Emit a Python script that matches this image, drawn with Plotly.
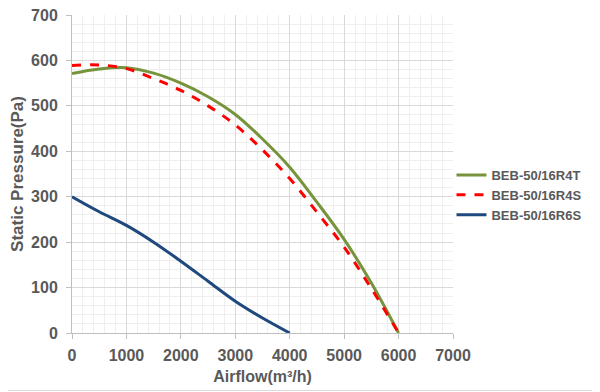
import plotly.graph_objects as go

airflow_r4t = [0, 500, 1000, 1500, 2000, 2500, 3000, 3500, 4000, 4500, 5000, 5500, 6000]
pressure_r4t = [571, 581, 584, 572, 550, 520, 481, 427, 365, 288, 206, 110, 0]

airflow_r4s = [0, 500, 1000, 1500, 2000, 2500, 3000, 3500, 4000, 4500, 5000, 5500, 6000]
pressure_r4s = [589, 590, 582, 560, 534, 500, 458, 403, 340, 266, 189, 98, 0]

airflow_r6s = [0, 500, 1000, 1500, 2000, 2500, 3000, 3500, 4000]
pressure_r6s = [300, 267, 237, 200, 158, 114, 70, 33, 0]

names = ["BEB-50/16R4T", "BEB-50/16R4S", "BEB-50/16R6S"]
x_ticks = [0, 1000, 2000, 3000, 4000, 5000, 6000, 7000]
y_ticks = [0, 100, 200, 300, 400, 500, 600, 700]

font_family = "Liberation Sans, Arial, sans-serif"
txt = "#595959"

fig = go.Figure()
fig.add_trace(go.Scatter(x=airflow_r4t, y=pressure_r4t, name=names[0], mode="lines",
                         line=dict(color="#77933C", width=3, shape="spline")))
fig.add_trace(go.Scatter(x=airflow_r4s, y=pressure_r4s, name=names[1], mode="lines",
                         line=dict(color="#FF0000", width=3, dash="dash", shape="spline")))
fig.add_trace(go.Scatter(x=airflow_r6s, y=pressure_r6s, name=names[2], mode="lines",
                         line=dict(color="#1F497D", width=3, shape="spline")))

# page body has an 8px margin, so figure is sized/offset to compensate
fig.update_layout(
    width=592, height=384,
    margin=dict(l=64, r=147, t=7, b=59),
    paper_bgcolor="white", plot_bgcolor="white",
    font=dict(family=font_family, color=txt, size=13),
    showlegend=True,
    legend=dict(x=0.996, y=0.434, xanchor="left", yanchor="middle",
                font=dict(size=13, color=txt, family=font_family, weight="bold"),
                tracegroupgap=0, itemwidth=30, bgcolor="rgba(0,0,0,0)"),
    xaxis=dict(range=[0, 7000], tickvals=x_ticks, ticktext=[str(v) for v in x_ticks],
               showgrid=True, gridcolor="#D9D9D9", gridwidth=1,
               minor=dict(dtick=200, showgrid=True, gridcolor="#EFEFEF", gridwidth=1),
               showline=True, linecolor="#BFBFBF", linewidth=1,
               ticks="outside", ticklen=5, tickcolor="#BFBFBF", ticklabelstandoff=3,
               ticklabeloverflow="allow",
               tickfont=dict(size=16, color=txt, family=font_family, weight="bold"),
               title=dict(text="Airflow(m³/h)", font=dict(size=16, color=txt, weight="bold"), standoff=7),
               zeroline=False, automargin=False),
    yaxis=dict(range=[0, 700], tickvals=y_ticks, ticktext=[str(v) for v in y_ticks],
               showgrid=True, gridcolor="#D9D9D9", gridwidth=1,
               minor=dict(dtick=20, showgrid=True, gridcolor="#EFEFEF", gridwidth=1),
               showline=True, linecolor="#BFBFBF", linewidth=1,
               ticks="outside", ticklen=5, tickcolor="#BFBFBF", ticklabelstandoff=5,
               ticklabeloverflow="allow",
               tickfont=dict(size=16, color=txt, family=font_family, weight="bold"),
               title=dict(text="Static Pressure(Pa)", font=dict(size=17, color=txt, weight="bold"), standoff=16),
               zeroline=False, automargin=False),
)

# outer chart border (right and bottom edges visible inside the window)
fig.add_shape(type="line", xref="paper", yref="paper",
              x0=526.5/381, x1=526.5/381, y0=-57.5/318, y1=1 + 7/318,
              line=dict(color="#D9D9D9", width=1))
fig.add_shape(type="line", xref="paper", yref="paper",
              x0=-64/381, x1=526.5/381, y0=-57.5/318, y1=-57.5/318,
              line=dict(color="#D9D9D9", width=1))

fig.write_html("out.html")
